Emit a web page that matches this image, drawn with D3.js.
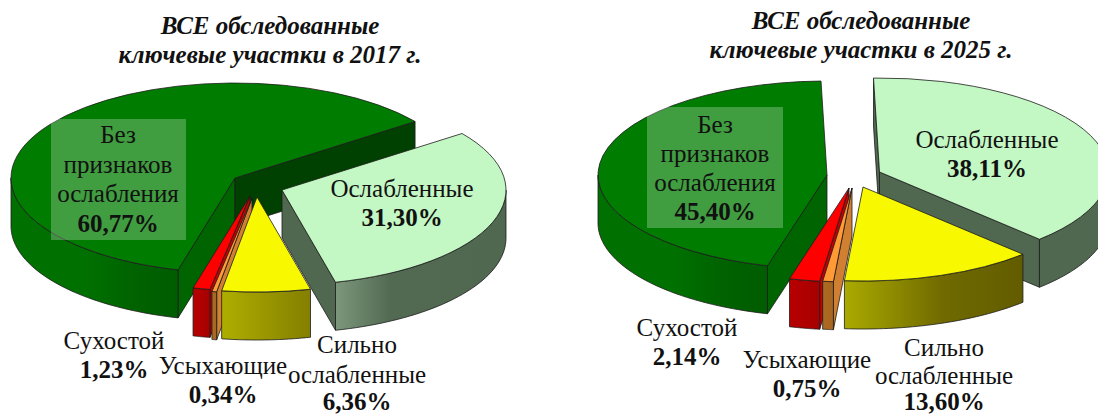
<!DOCTYPE html>
<html lang="ru">
<head>
<meta charset="utf-8">
<script src="https://cdn.jsdelivr.net/npm/d3@7"></script>
<style>
html,body{margin:0;padding:0;background:#fff;overflow:hidden}
svg{display:block}
text{font-family:"Liberation Serif","Times New Roman",serif;fill:#111;text-anchor:middle}
</style>
</head>
<body>
<svg id="chart" width="1098" height="414"></svg>
<script>
// ---------- data ----------
const categories = ["Ослабленные", "Сильно ослабленные", "Усыхающие", "Сухостой", "Без признаков ослабления"];
const values2017 = [31.30, 6.36, 0.34, 1.23, 60.77];
const values2025 = [38.11, 13.60, 0.75, 2.14, 45.40];
const years = ["2017", "2025"];
const titleLine1 = "ВСЕ обследованные";
const titleLine2 = "ключевые участки в ";

// ---------- layout / style ----------
const decimalComma = v => v.toFixed(2).replace(".", ",") + "%";
const styles = [
  {top:"#c3f7c3", cut:"#506850", wall:[["0","#7d977d"],["0.32","#516a51"],["1","#506850"]]},
  {top:"#f8f800", cut:"#8a8a00", wall:[["0","#aeae00"],["1","#847f00"]]},
  {top:"#ff9a35", cut:"#d08030", wall:[["0","#ac6a22"],["1","#a86520"]]},
  {top:"#ff0000", cut:"#c40000", wall:[["0","#b80000"],["1","#a60000"]]},
  {top:"#007c00", cut:"#006400", endCut:"#004000", wall:[["0","#007000"],["0.45","#007000"],["0.75","#006200"],["1","#005c00"]]}
];
const panels = [
  {
    values: values2017, year: years[0], startDeg: 53.5, rx: 224, ry: 95, depth: 48,
    titleX: 270, titleY: [34, 63],
    tips: [[282,190],[257,197],[252,198],[250,196],[235,178]],
    drawOrder: [4,0,3,2,1],
    box: [51,119,135,121],
    wallOverride: {},
    labels: [
      {x:402, y:[197,226], lines:["Ослабленные"]},
      {x:357, y:[353,383,410], lines:["Сильно","ослабленные"]},
      {x:223, y:[374,403], lines:["Усыхающие"]},
      {x:114, y:[349,378], lines:["Сухостой"]},
      {x:118, y:[143,173,202,232], lines:["Без","признаков","ослабления"]}
    ]
  },
  {
    values: values2025, year: years[1], startDeg: -1.5, rx: 229, ry: 94, depth: 48,
    titleX: 861, titleY: [29, 58],
    tips: [[879.5,172],[863,187],[852,188],[849,188],[827,175]],
    drawOrder: [4,0,3,2,1],
    box: [647,107,136,121],
    wallOverride: {
      0: [["0","#506850"],["1","#506850"]],
      1: [["0","#aaaa00"],["0.55","#706a00"],["1","#625c00"]]
    },
    labels: [
      {x:987, y:[148,177], lines:["Ослабленные"]},
      {x:944, y:[356,384,410], lines:["Сильно","ослабленные"]},
      {x:807, y:[368,397], lines:["Усыхающие"]},
      {x:687, y:[336,365], lines:["Сухостой"]},
      {x:715, y:[133,162,191,220], lines:["Без","признаков","ослабления"]}
    ]
  }
];
const LABEL_SIZE = 25, TITLE_SIZE = 25;

// ---------- drawing ----------
const svg = d3.select("#chart");
const defs = svg.append("defs");
const lineGen = d3.line();
const strokeCol = "#1c1c1c";

panels.forEach((p, pi) => {
  const g = svg.append("g");
  const pie = d3.pie().sort(null).value(d => d)
    .startAngle(p.startDeg * Math.PI / 180)
    .endAngle(p.startDeg * Math.PI / 180 + 2 * Math.PI);
  const arcs = pie(p.values);
  const arc = d3.arc().innerRadius(0).outerRadius(p.rx);

  p.drawOrder.forEach(i => {
    const a = arcs[i], st = styles[i], [cx, cy] = p.tips[i];
    const P = (t, dz = 0) => [cx + p.rx * Math.sin(t), cy - p.ry * Math.cos(t) + dz];
    const slice = g.append("g");

    // cut faces (only those that turn toward the viewer)
    const cutFace = (t, fill) => {
      const pts = [[cx, cy], P(t), P(t, p.depth), [cx, cy + p.depth]];
      slice.append("path").attr("d", lineGen(pts) + "Z")
        .attr("fill", fill).attr("stroke", strokeCol).attr("stroke-width", 0.8).attr("stroke-linejoin", "round");
    };
    if (Math.sin(a.startAngle) < 0) cutFace(a.startAngle, st.cut);
    if (Math.sin(a.endAngle) > 0) cutFace(a.endAngle, st.endCut || st.cut);

    // outer rim: parts of the arc lying on the front half of the ellipse
    const twoPi = 2 * Math.PI;
    const k0 = Math.floor(a.startAngle / twoPi);
    [0, 1].forEach(n => {
      const lo = Math.max(a.startAngle, (k0 + n) * twoPi + Math.PI / 2);
      const hi = Math.min(a.endAngle, (k0 + n) * twoPi + 1.5 * Math.PI);
      if (hi <= lo) return;
      const ts = d3.range(0, 41).map(j => lo + (hi - lo) * j / 40);
      const upper = ts.map(t => P(t));
      const lower = ts.map(t => P(t, p.depth)).reverse();
      const xs = d3.extent(upper, d => d[0]);
      const id = `w${pi}_${i}_${n}`;
      const grad = defs.append("linearGradient").attr("id", id)
        .attr("gradientUnits", "userSpaceOnUse")
        .attr("x1", xs[0]).attr("x2", xs[1]).attr("y1", 0).attr("y2", 0);
      const stops = p.wallOverride[i] || st.wall;
      stops.forEach(s => grad.append("stop").attr("offset", s[0]).attr("stop-color", s[1]));
      slice.append("path").attr("d", lineGen(upper.concat(lower)) + "Z")
        .attr("fill", `url(#${id})`).attr("stroke", strokeCol).attr("stroke-width", 0.8).attr("stroke-linejoin", "round");
    });

    // top face: d3.arc circle squashed to the ellipse
    slice.append("path")
      .attr("d", arc(a))
      .attr("transform", `translate(${cx},${cy}) scale(1,${p.ry / p.rx})`)
      .attr("fill", st.top)
      .attr("stroke", strokeCol).attr("stroke-width", 0.8)
      .attr("stroke-linejoin", "round")
      .attr("vector-effect", "non-scaling-stroke");
  });

  // label backing box
  g.append("rect").attr("x", p.box[0]).attr("y", p.box[1]).attr("width", p.box[2]).attr("height", p.box[3])
    .attr("fill", "#fff").attr("fill-opacity", 0.25);

  // labels
  p.labels.forEach((l, i) => {
    l.lines.forEach((s, j) => {
      g.append("text").attr("x", l.x).attr("y", l.y[j]).attr("font-size", LABEL_SIZE).text(s);
    });
    g.append("text").attr("x", l.x).attr("y", l.y[l.lines.length])
      .attr("font-size", LABEL_SIZE).attr("font-weight", "bold").text(decimalComma(p.values[i]));
  });

  // title
  [titleLine1, `${titleLine2}${p.year} г.`].forEach((s, j) => {
    g.append("text").attr("x", p.titleX).attr("y", p.titleY[j])
      .attr("font-size", TITLE_SIZE).attr("font-weight", "bold").attr("font-style", "italic").text(s);
  });
});
</script>
</body>
</html>
